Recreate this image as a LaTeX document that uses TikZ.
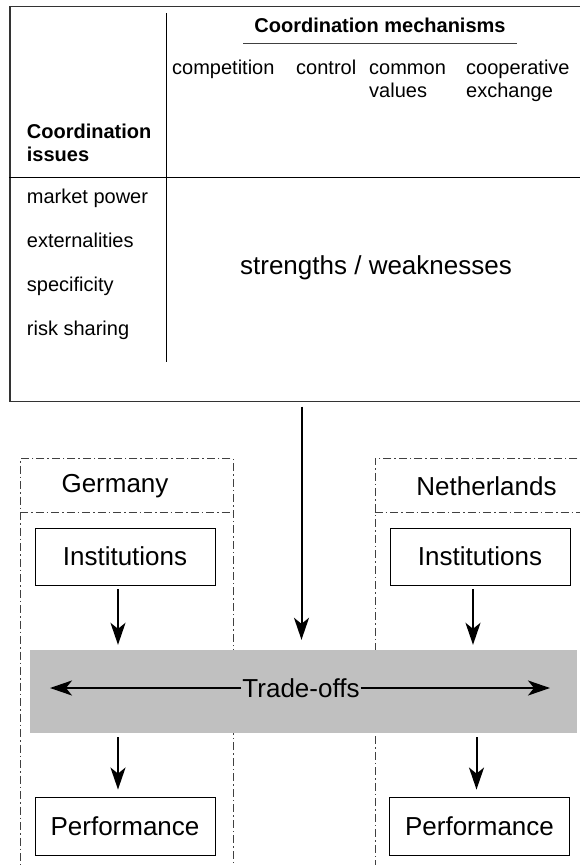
\documentclass[tikz,border=0pt]{standalone}
\usepackage{fontspec}
\setmainfont{Liberation Sans}
\usetikzlibrary{arrows.meta,positioning}
\definecolor{bandgray}{RGB}{192,192,192}

\begin{document}
\begin{tikzpicture}[x=1pt, y=-1pt,
    small/.style={font=\fontsize{20}{23}\selectfont, inner sep=0pt},
    big/.style={font=\fontsize{26}{30}\selectfont, inner sep=1pt},
    cell/.style={draw, line width=0.9pt, minimum width=180pt, minimum height=57pt, font=\fontsize{26}{30}\selectfont},
    country/.style={draw=black!75, line width=0.8pt, dash pattern=on 8pt off 3pt on 1.5pt off 3pt},
    flow/.style={line width=2pt, -{Stealth[length=22pt, width=15pt, inset=6pt]}},
]
\useasboundingbox (0,0) rectangle (579,865);

% matrix of issues and mechanisms
\node[draw=black!80, line width=1.2pt, minimum width=600pt, minimum height=395pt, anchor=north west] (frame) at (9.3,5.5) {};
\draw[line width=0.9pt] (166.5,13) -- (166.5,362);
\draw[line width=0.9pt] (9.3,177) -- (600,177);
\node[small, font=\fontsize{20}{23}\selectfont\bfseries, anchor=base] (mechtitle) at (380,32) {Coordination mechanisms};
\draw[black!75, line width=0.9pt] (243,43) -- (517,43);
\node[small, anchor=north west, align=left] (comp) at (172,57.9) {\strut competition};
\node[small, anchor=north west, align=left] (ctrl) at (296,57.9) {\strut control};
\node[small, anchor=north west, align=left] (common) at (369,57.9) {\strut common\\values};
\node[small, anchor=north west, align=left] (coop) at (466,57.9) {\strut cooperative\\exchange};
\node[small, font=\fontsize{20}{23}\selectfont\bfseries, anchor=north west, align=left] (issues) at (26.7,122) {\strut Coordination\\issues};
\node[small, anchor=base west] (mpower) at (26.7,203) {market power};
\node[small, anchor=base west] (extern) at (26.7,247) {externalities};
\node[small, anchor=base west] (specif) at (26.7,291) {specificity};
\node[small, anchor=base west] (risk) at (26.7,335) {risk sharing};
\node[big, anchor=base] (strengths) at (376,274) {strengths / weaknesses};

% the two countries
\node[country, minimum width=212.7pt, minimum height=420pt, anchor=north west] (de) at (20,458) {};
\node[country, minimum width=240pt, minimum height=420pt, anchor=north west] (nl) at (374.5,458) {};
\draw[country] (20,512.5) -- (232.7,512.5);
\draw[country] (374.5,512.5) -- (600,512.5);
\node[big] (germany) at (115,486) {Germany};
\node[big] (netherlands) at (486.5,486) {Netherlands};
\node[cell] (deinst) at (125,556.5) {Institutions};
\node[cell] (nlinst) at (480,556.5) {Institutions};
\node[cell, minimum height=58pt] (deperf) at (125,826) {Performance};
\node[cell, minimum height=58pt] (nlperf) at (479.5,826) {Performance};

\node[fill=bandgray, minimum width=547pt, minimum height=83pt] (band) at (303.5,691.5) {};
\node[big] (tradeoffs) at (301,688) {Trade-offs};

\coordinate (mid) at (301.5,0);
\coordinate (dex) at (118,0);
\coordinate (nlx) at (473,0);
\coordinate (nly) at (476.5,0);
\coordinate (tl) at (50,688);
\coordinate (tr) at (550,688);

\draw[flow, shorten <=5pt, shorten >=10pt] (frame.south -| mid) -- (band.north -| mid);
\draw[flow, shorten <=4pt, shorten >=5pt] (deinst.south -| dex) -- (band.north -| dex);
\draw[flow, shorten <=4pt, shorten >=5pt] (nlinst.south -| nlx) -- (band.north -| nlx);
\draw[flow, shorten <=4pt, shorten >=7pt] (band.south -| dex) -- (deperf.north -| dex);
\draw[flow, shorten <=4pt, shorten >=7pt] (band.south -| nly) -- (nlperf.north -| nly);
\draw[flow] (tradeoffs.west) -- (tl);
\draw[flow] (tradeoffs.east) -- (tr);
\end{tikzpicture}
\end{document}
